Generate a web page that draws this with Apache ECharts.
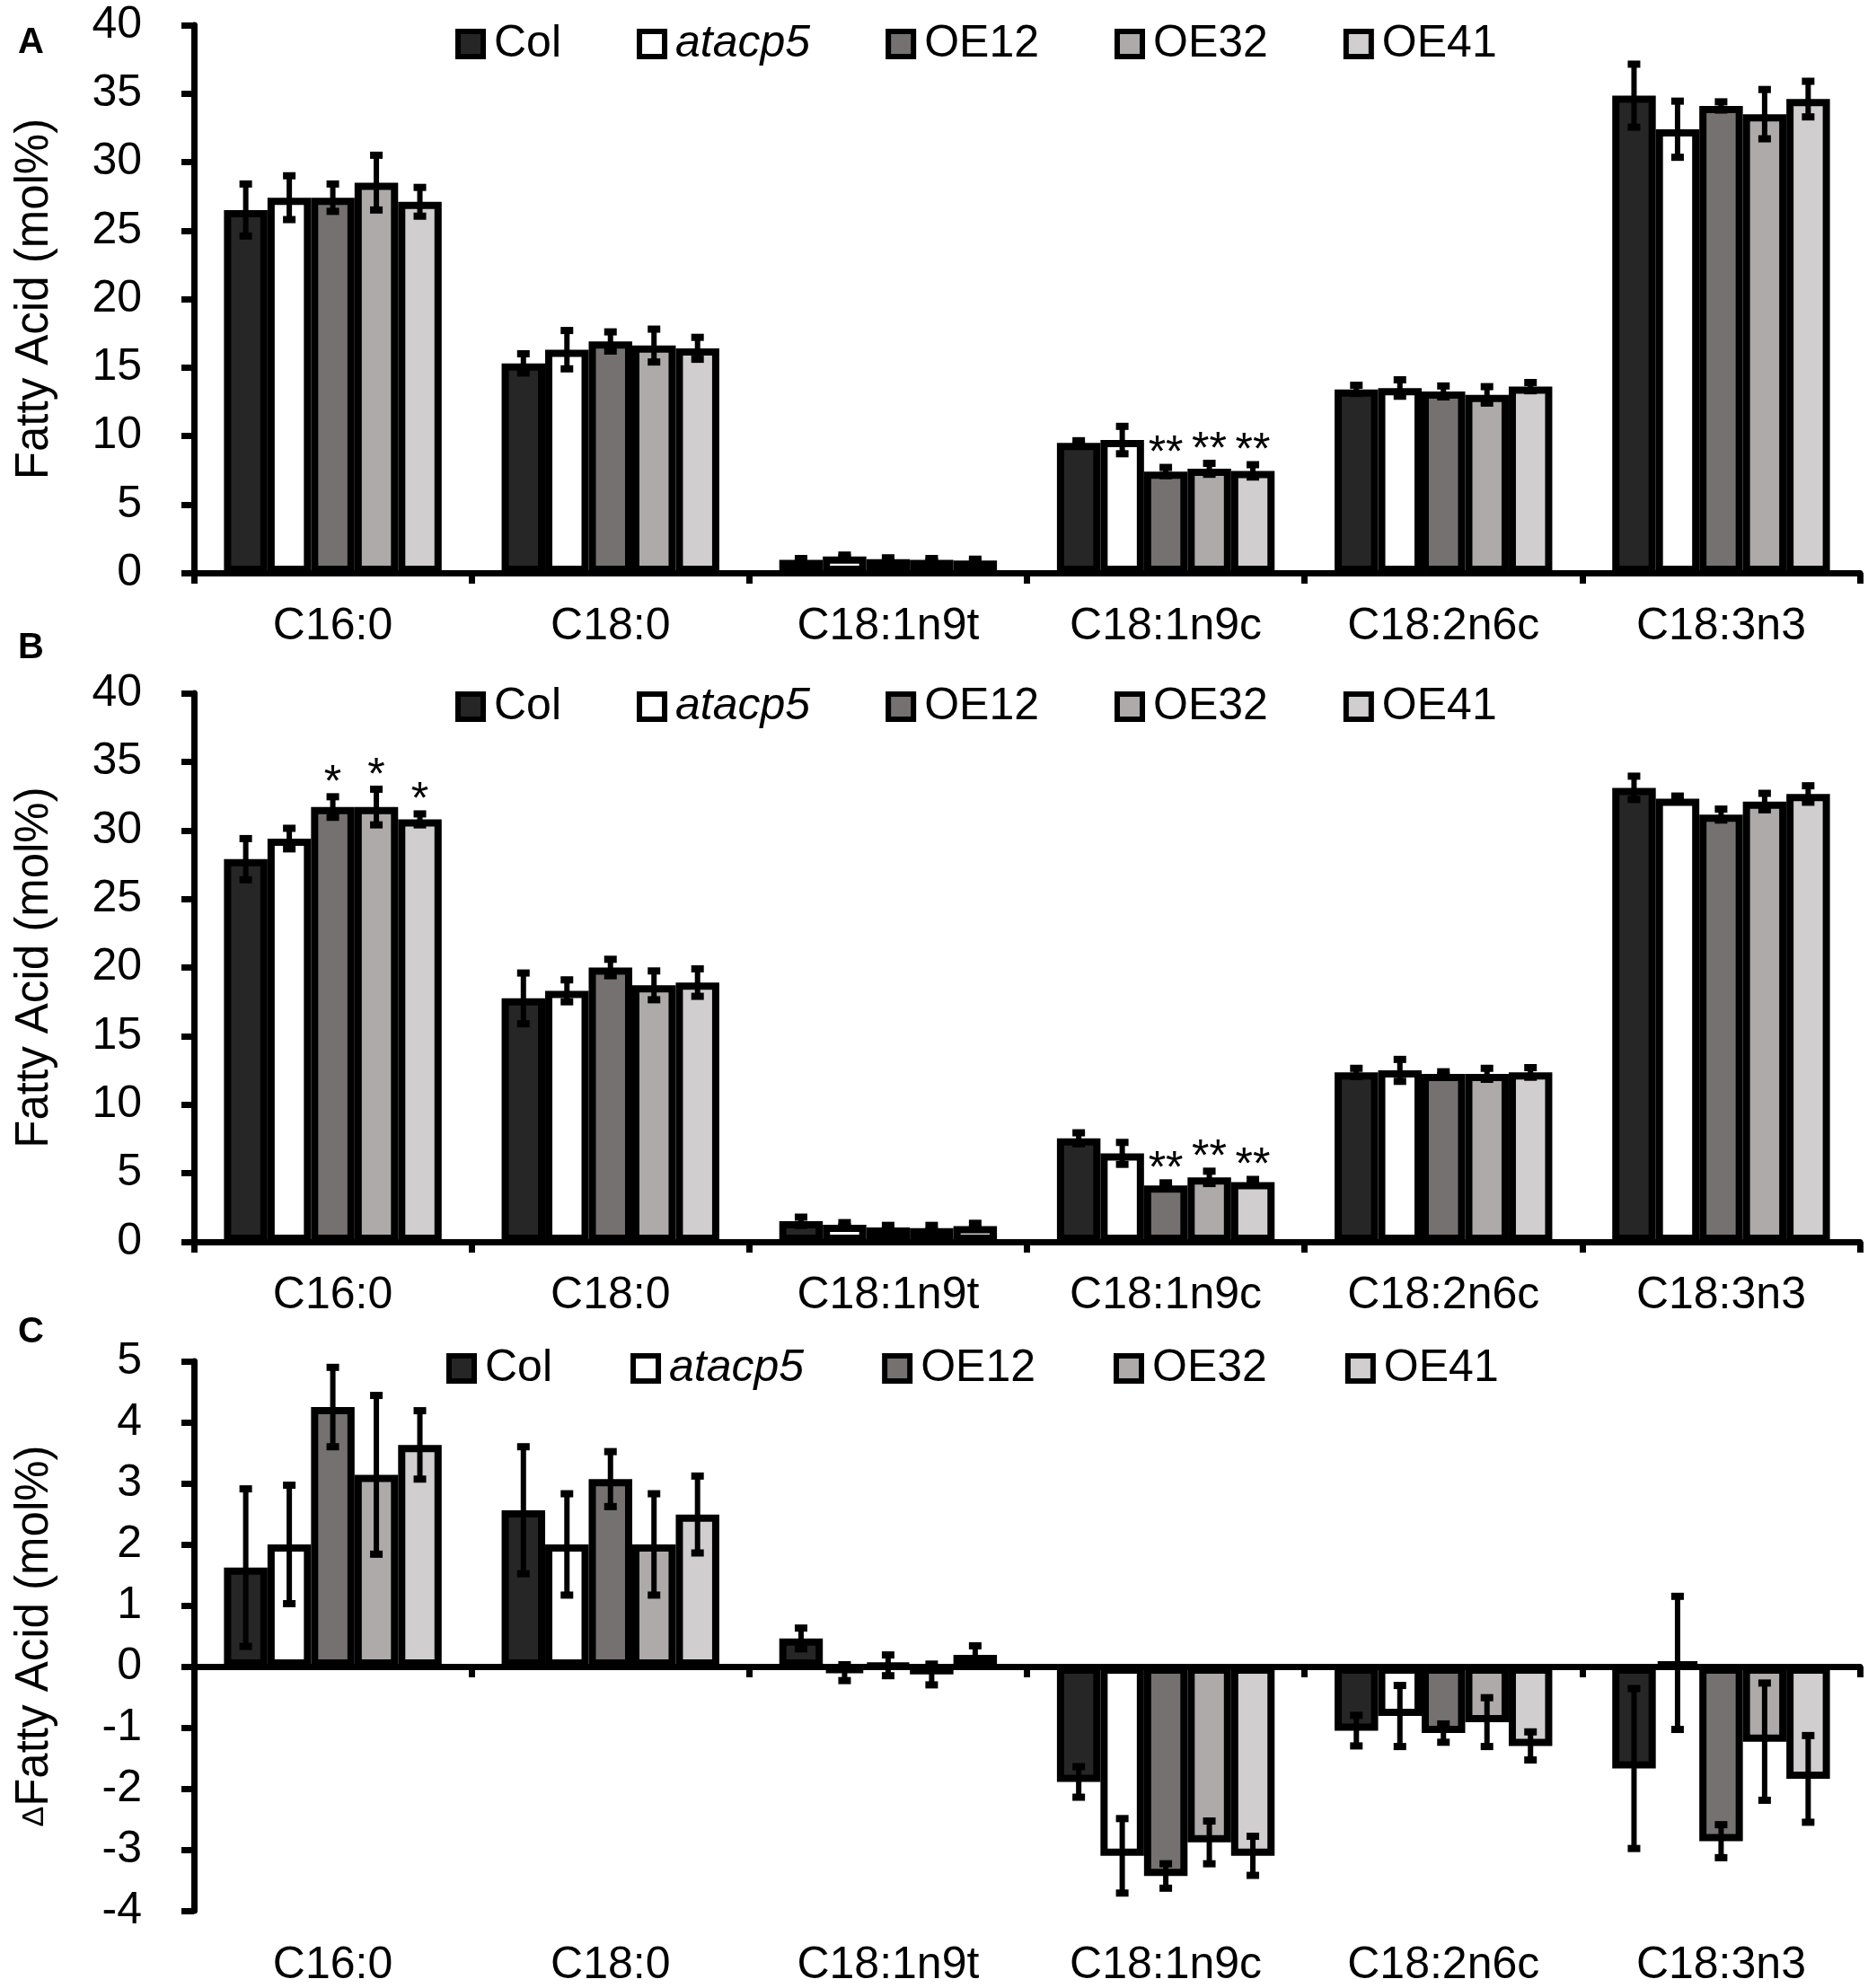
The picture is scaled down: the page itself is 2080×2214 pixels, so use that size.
<!DOCTYPE html>
<html>
<head>
<meta charset="utf-8">
<script src="https://cdn.jsdelivr.net/npm/echarts@6/dist/echarts.min.js"></script>
<style>
  html, body { margin: 0; padding: 0; background: #fff; }
  #chart { width: 2080px; height: 2214px; }
</style>
</head>
<body>
<div id="chart"></div>
<script>
// categories and genotypes
const categories = ['C16:0', 'C18:0', 'C18:1n9t', 'C18:1n9c', 'C18:2n6c', 'C18:3n3'];
const genotypes = ['Col', 'atacp5', 'OE12', 'OE32', 'OE41'];
const colors = ['#262626', '#ffffff', '#767171', '#aeaaaa', '#d0cece'];

// panel A: mean and error, one row per genotype
const meanA = [
  [26.5, 15.3, 0.95, 9.5, 13.4, 34.85],
  [27.4, 16.3, 1.2, 9.7, 13.5, 32.4],
  [27.4, 16.9, 1.0, 7.4, 13.25, 34.1],
  [28.5, 16.6, 0.95, 7.6, 13.0, 33.5],
  [27.1, 16.4, 0.9, 7.45, 13.6, 34.6]
];
const errA = [
  [1.9, 0.7, 0.1, 0.15, 0.3, 2.3],
  [1.6, 1.4, 0.1, 1.0, 0.6, 2.05],
  [1.0, 0.7, 0.1, 0.3, 0.4, 0.3],
  [2.0, 1.2, 0.1, 0.4, 0.6, 1.8],
  [1.05, 0.8, 0.1, 0.45, 0.3, 1.3]
];
// [category, genotype, mark]
const sigA = [[3, 2, '**'], [3, 3, '**'], [3, 4, '**']];

// panel B
const meanB = [
  [27.9, 17.75, 1.5, 7.55, 12.35, 33.1],
  [29.4, 18.3, 1.25, 6.45, 12.5, 32.3],
  [31.7, 20.0, 1.05, 4.1, 12.25, 31.15],
  [31.7, 18.7, 1.0, 4.7, 12.25, 32.1],
  [30.8, 18.9, 1.15, 4.35, 12.35, 32.65]
];
const errB = [
  [1.5, 1.85, 0.3, 0.4, 0.3, 0.85],
  [0.75, 0.8, 0.15, 0.8, 0.8, 0.2],
  [0.75, 0.6, 0.15, 0.2, 0.15, 0.4],
  [1.3, 1.05, 0.2, 0.45, 0.4, 0.6],
  [0.4, 1.0, 0.2, 0.2, 0.35, 0.6]
];
const sigB = [[0, 2, '*'], [0, 3, '*'], [0, 4, '*'], [3, 2, '**'], [3, 3, '**'], [3, 4, '**']];

// panel C: differences
const meanC = [
  [1.62, 2.56, 0.46, -1.89, -1.05, -1.67],
  [2.0, 2.0, -0.1, -3.1, -0.81, 0.06],
  [4.25, 3.07, 0.02, -3.43, -1.09, -2.86],
  [3.14, 2.0, -0.13, -2.88, -0.91, -1.23],
  [3.63, 2.49, 0.19, -3.1, -1.3, -1.84]
];
const errC = [
  [1.29, 1.04, 0.17, 0.25, 0.25, 1.31],
  [0.97, 0.83, 0.13, 0.61, 0.5, 1.09],
  [0.65, 0.45, 0.17, 0.2, 0.15, 0.27],
  [1.3, 0.83, 0.17, 0.35, 0.4, 0.96],
  [0.56, 0.63, 0.15, 0.32, 0.23, 0.71]
];
const sigC = [];

const FONT = '"Liberation Sans", Arial, sans-serif';
const CAT_GAP = 0.216;

const panels = [
  { letter: 'A', top: 28, height: 610, min: 0, max: 40, step: 5, mean: meanA, err: errA, sig: sigA,
    yName: 'Fatty Acid (mol%)', legendLeft: 507, legendTop: 24, letterTop: 28, legendGap: 84 },
  { letter: 'B', top: 772, height: 611, min: 0, max: 40, step: 5, mean: meanB, err: errB, sig: sigB,
    yName: 'Fatty Acid (mol%)', legendLeft: 507, legendTop: 762, letterTop: 702, legendGap: 84 },
  { letter: 'C', top: 1516, height: 612, min: -4, max: 5, step: 1, mean: meanC, err: errC, sig: sigC,
    yName: '{d|\u0394}Fatty Acid (mol%)', legendLeft: 497, legendTop: 1499, letterTop: 1464, legendGap: 87,
    labelsBottom: true }
];

const grid = [], xAxis = [], yAxis = [], series = [], legend = [], graphic = [];

panels.forEach((p, k) => {
  grid.push({ left: 216, right: 9, top: p.top, height: p.height, containLabel: false, outerBoundsMode: 'none' });

  xAxis.push({
    type: 'category', gridIndex: k, data: categories,
    axisLine: { onZero: true, lineStyle: { color: '#000', width: 7 } },
    axisTick: { show: true, length: 12, lineStyle: { color: '#000', width: 7 } },
    axisLabel: { show: !p.labelsBottom, interval: 0, margin: 35, fontSize: 50, color: '#000', fontFamily: FONT },
    splitLine: { show: false }
  });

  yAxis.push({
    type: 'value', gridIndex: k, min: p.min, max: p.max, interval: p.step,
    axisLine: { show: true, lineStyle: { color: '#000', width: 7 } },
    axisTick: { show: true, length: 14, lineStyle: { color: '#000', width: 7 } },
    axisLabel: { margin: 58, fontSize: 50, color: '#000', fontFamily: FONT },
    splitLine: { show: false },
    name: p.yName, nameLocation: 'middle', nameGap: 152,
    nameTextStyle: { fontSize: 51, color: '#000', fontFamily: FONT,
      rich: { d: { fontSize: 34, color: '#000', fontFamily: FONT } } }
  });

  genotypes.forEach((g, i) => {
    series.push({
      type: 'bar', name: g, xAxisIndex: k, yAxisIndex: k,
      data: p.mean[i],
      barGap: '0%', barCategoryGap: (CAT_GAP * 100) + '%',
      itemStyle: { color: colors[i], borderColor: '#000', borderWidth: 8 },
      emphasis: { disabled: true },
      z: 2
    });
  });

  // error bars + significance marks
  const rows = [];
  genotypes.forEach((g, i) => {
    p.mean[i].forEach((v, c) => rows.push([c, v, p.err[i][c], i]));
  });
  const sigMap = {};
  p.sig.forEach(s => { sigMap[s[0] + '-' + s[1]] = s[2]; });

  series.push({
    type: 'custom', xAxisIndex: k, yAxisIndex: k, data: rows, z: 5, clip: false,
    silent: true,
    renderItem: (params, api) => {
      const c = api.value(0), v = api.value(1), e = api.value(2), i = api.value(3);
      const band = api.size([1, 0])[0];
      const barW = band * (1 - CAT_GAP) / genotypes.length;
      const x = api.coord([c, v])[0] + (i - (genotypes.length - 1) / 2) * barW;
      const yHi = api.coord([c, v + e])[1];
      const yLo = api.coord([c, v - e])[1];
      const cap = 7;
      const capStyle = { stroke: '#000', lineWidth: 8 };
      const children = [
        { type: 'line', shape: { x1: x, y1: yHi, x2: x, y2: yLo }, style: { stroke: '#000', lineWidth: 6 } },
        { type: 'line', shape: { x1: x - cap, y1: yHi, x2: x + cap, y2: yHi }, style: capStyle },
        { type: 'line', shape: { x1: x - cap, y1: yLo, x2: x + cap, y2: yLo }, style: capStyle }
      ];
      const mark = sigMap[c + '-' + i];
      if (mark) {
        children.push({
          type: 'text',
          style: { text: mark, x: x, y: yHi - 14, fill: '#000', fontSize: 50, fontFamily: FONT,
            align: 'center', verticalAlign: 'middle' }
        });
      }
      return { type: 'group', children: children };
    }
  });

  legend.push({
    data: genotypes, left: p.legendLeft, top: p.legendTop, padding: 0,
    itemGap: p.legendGap, itemWidth: 28, itemHeight: 28, icon: 'rect', selectedMode: false,
    itemStyle: { borderColor: '#000', borderWidth: 6 },
    textStyle: { fontSize: 50, color: '#000', fontFamily: FONT, padding: [0, 0, 0, 7],
      rich: { i: { fontStyle: 'italic', fontSize: 50, color: '#000', fontFamily: FONT } } },
    formatter: n => (n === 'atacp5' ? '{i|atacp5}' : n)
  });

  graphic.push({
    type: 'text', left: 20, top: p.letterTop,
    style: { text: p.letter, fontSize: 40, fontWeight: 'bold', fill: '#000', fontFamily: FONT }
  });
});

// panel C keeps its category labels at the bottom of the plot
xAxis.push({
  type: 'category', gridIndex: 2, data: categories, position: 'bottom',
  axisLine: { show: false, onZero: false }, axisTick: { show: false },
  axisLabel: { interval: 0, margin: 36, fontSize: 50, color: '#000', fontFamily: FONT },
  splitLine: { show: false }
});

const chart = echarts.init(document.getElementById('chart'));
chart.setOption({
  backgroundColor: '#fff',
  animation: false,
  grid: grid,
  xAxis: xAxis,
  yAxis: yAxis,
  legend: legend,
  graphic: graphic,
  series: series
});
</script>
</body>
</html>
